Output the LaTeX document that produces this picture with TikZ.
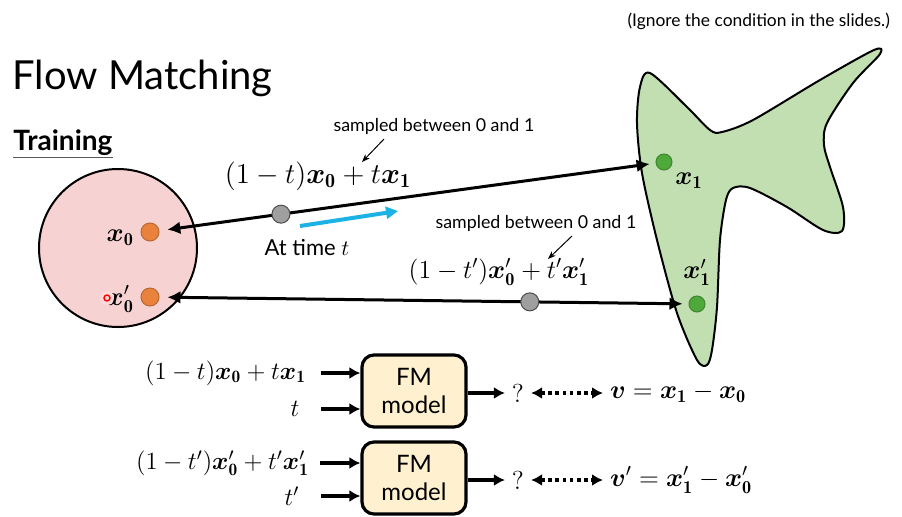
\documentclass[tikz,border=0pt]{standalone}
\usepackage{fix-cm}
\usepackage{amsmath,amssymb}
\usepackage{fontspec}
\setsansfont{Lato}
\usepackage{tikz}
\usetikzlibrary{arrows.meta}

\definecolor{srcpink}{HTML}{F6D2D2}
\definecolor{tgtgreen}{HTML}{C2DFB2}
\definecolor{dotorange}{HTML}{E8823C}
\definecolor{dotgreen}{HTML}{4FA83A}
\definecolor{boxyellow}{HTML}{FFF1CF}
\definecolor{arrowblue}{HTML}{1DB2E6}

\newcommand{\xv}[1]{\boldsymbol{x}_{\mathbf{#1}}}
\newcommand{\xp}[1]{\boldsymbol{x}'_{\mathbf{#1}}}

\begin{document}
\begin{tikzpicture}[x=0.5pt,y=-0.5pt,font=\sffamily,
  mth/.style={font=\fontsize{13}{15}\selectfont},
  bigmth/.style={font=\fontsize{14.4}{16}\selectfont},
  inmth/.style={font=\fontsize{12.4}{14}\selectfont},
  notetxt/.style={font=\sffamily\fontsize{8.9}{10}\selectfont},
  odot/.style={circle,fill=dotorange,draw=dotorange!80!black,line width=0.5pt,minimum size=9pt,inner sep=0pt},
  gdot/.style={circle,fill=dotgreen,draw=dotgreen!80!black,line width=0.5pt,minimum size=8pt,inner sep=0pt},
  mdot/.style={circle,fill=gray!75,draw=gray!60!black,line width=0.5pt,minimum size=9pt,inner sep=0pt},
  pairarr/.style={line width=1.5pt,{Latex[length=6.5pt,width=6.5pt]}-{Latex[length=6.5pt,width=6.5pt]},shorten <=4pt,shorten >=3pt},
  inarr/.style={line width=1.6pt,-{Latex[length=5.5pt,width=6pt]}},
  dotarr/.style={line width=1.8pt,dash pattern=on 1.8pt off 1.8pt,{Latex[length=5.5pt,width=6pt]}-{Latex[length=5.5pt,width=6pt]}},
  notearr/.style={line width=0.5pt,-{Stealth[length=4pt,width=3pt]}},
  fmbox/.style={draw,fill=boxyellow,line width=1.6pt,rounded corners=6pt,minimum width=52pt,minimum height=36pt,align=center,inner sep=1pt,font=\sffamily\fontsize{12}{14}\selectfont}]
\useasboundingbox (0,0) rectangle (902,516);

% headings
\node[anchor=north east,font=\sffamily\fontsize{8.7}{10}\selectfont] (note) at (897,6) {(Ignore the condition in the slides.)};
\node[anchor=base west,inner sep=0pt,font=\sffamily\fontsize{20}{24}\selectfont] (title) at (12,89) {Flow Matching};
\node[anchor=base west,inner sep=0pt,font=\sffamily\bfseries\fontsize{14}{16}\selectfont] (train) at (13,150) {Training};
\draw[line width=0.6pt,gray!70!black] ([yshift=-1pt]train.south west) -- ([yshift=-1pt]train.south east);

% source and target distributions
\draw[fill=srcpink,line width=1pt] (118,248) circle[radius=79];
\draw[fill=tgtgreen,line width=1pt] plot[smooth cycle,tension=0.5] coordinates {
  (650,73) (687,107) (710,130) (722,132) (753,120) (820,80) (874,50) (880,54)
  (853,83) (827,123) (824,145) (830,167) (843,207) (842,231) (823,230)
  (787,207) (750,188) (733,188) (726,200) (720,240) (717,307) (712,350) (707,365)
  (697,360) (677,313) (657,240) (642,173) (637,123) (640,87)};

% samples
\node[odot] (x0) at (150,232) {};
\node[odot] (x0p) at (150,297) {};
\node[gdot] (x1) at (664,162) {};
\node[gdot] (x1p) at (697,304) {};
\node[mth,anchor=east] (lx0) at (141,238) {$\xv0$};
\node[mth,anchor=east] (lx0p) at (141,299) {$\xp0$};
\node[mth] (lx1) at (689,181) {$\xv1$};
\node[mth] (lx1p) at (697,272) {$\xp1$};
\fill[red!15] (107,298) circle[radius=7];
\draw[red,line width=0.7pt] (107,298) circle[radius=3];

% interpolation paths
\draw[pairarr] (x0) -- node[mdot,pos=0.245] (g1) {} (x1);
\draw[pairarr] (x0p) -- node[mdot,pos=0.7] (g2) {} (x1p);
\coordinate (b0) at (300,226);
\coordinate (b1) at (398,211);
\draw[arrowblue,line width=2pt,-{Triangle[length=6pt,width=6pt]}] (b0) -- (b1);
\node[font=\sffamily\fontsize{11}{13}\selectfont] (time) at (307,248) {At time $t$};

\node[bigmth] (f1) at (318,176) {$(1-t)\xv0+t\xv1$};
\node[notetxt] (s1) at (434,126) {sampled between 0 and 1};
\coordinate (s1a) at (384,139);
\coordinate (s1b) at (362,162);
\draw[notearr] (s1a) -- (s1b);

\node[mth] (f2) at (499,272) {$(1-t')\xp0+t'\xp1$};
\node[notetxt] (s2) at (536,223) {sampled between 0 and 1};
\coordinate (s2a) at (572,236);
\coordinate (s2b) at (548,259);
\draw[notearr] (s2a) -- (s2b);

% model, first pair
\node[fmbox] (m1) at (414,391) {FM\\model};
\node[inmth,anchor=east] (in1) at (313,373) {$(1-t)\xv0+t\xv1$};
\node[inmth] (in1t) at (295,409) {$t$};
\draw[inarr] ([xshift=4pt]in1.east) -- (in1.east -| m1.west);
\draw[inarr] ([xshift=4pt]in1.east |- in1t) -- (in1t -| m1.west);
\node[mth] (q1) at (518,393) {\rmfamily ?};
\node[mth,anchor=west] (v1) at (603,393) {$\boldsymbol{v}=\xv1-\xv0$};
\draw[inarr] (m1.east |- q1) -- (q1.west);
\draw[dotarr] (q1.east) -- (v1.west);

% model, second pair
\node[fmbox] (m2) at (414,478) {FM\\model};
\node[inmth,anchor=east] (in2) at (316,463) {$(1-t')\xp0+t'\xp1$};
\node[inmth] (in2t) at (292,496) {$t'$};
\draw[inarr] ([xshift=2pt]in2.east) -- (in2.east -| m2.west);
\draw[inarr] ([xshift=4pt]in1.east |- in2t) -- (in2t -| m2.west);
\node[mth] (q2) at (518,480) {\rmfamily ?};
\node[mth,anchor=west] (v2) at (603,480) {$\boldsymbol{v}'=\xp1-\xp0$};
\draw[inarr] (m2.east |- q2) -- (q2.west);
\draw[dotarr] (q2.east) -- (v2.west);
\end{tikzpicture}
\end{document}
